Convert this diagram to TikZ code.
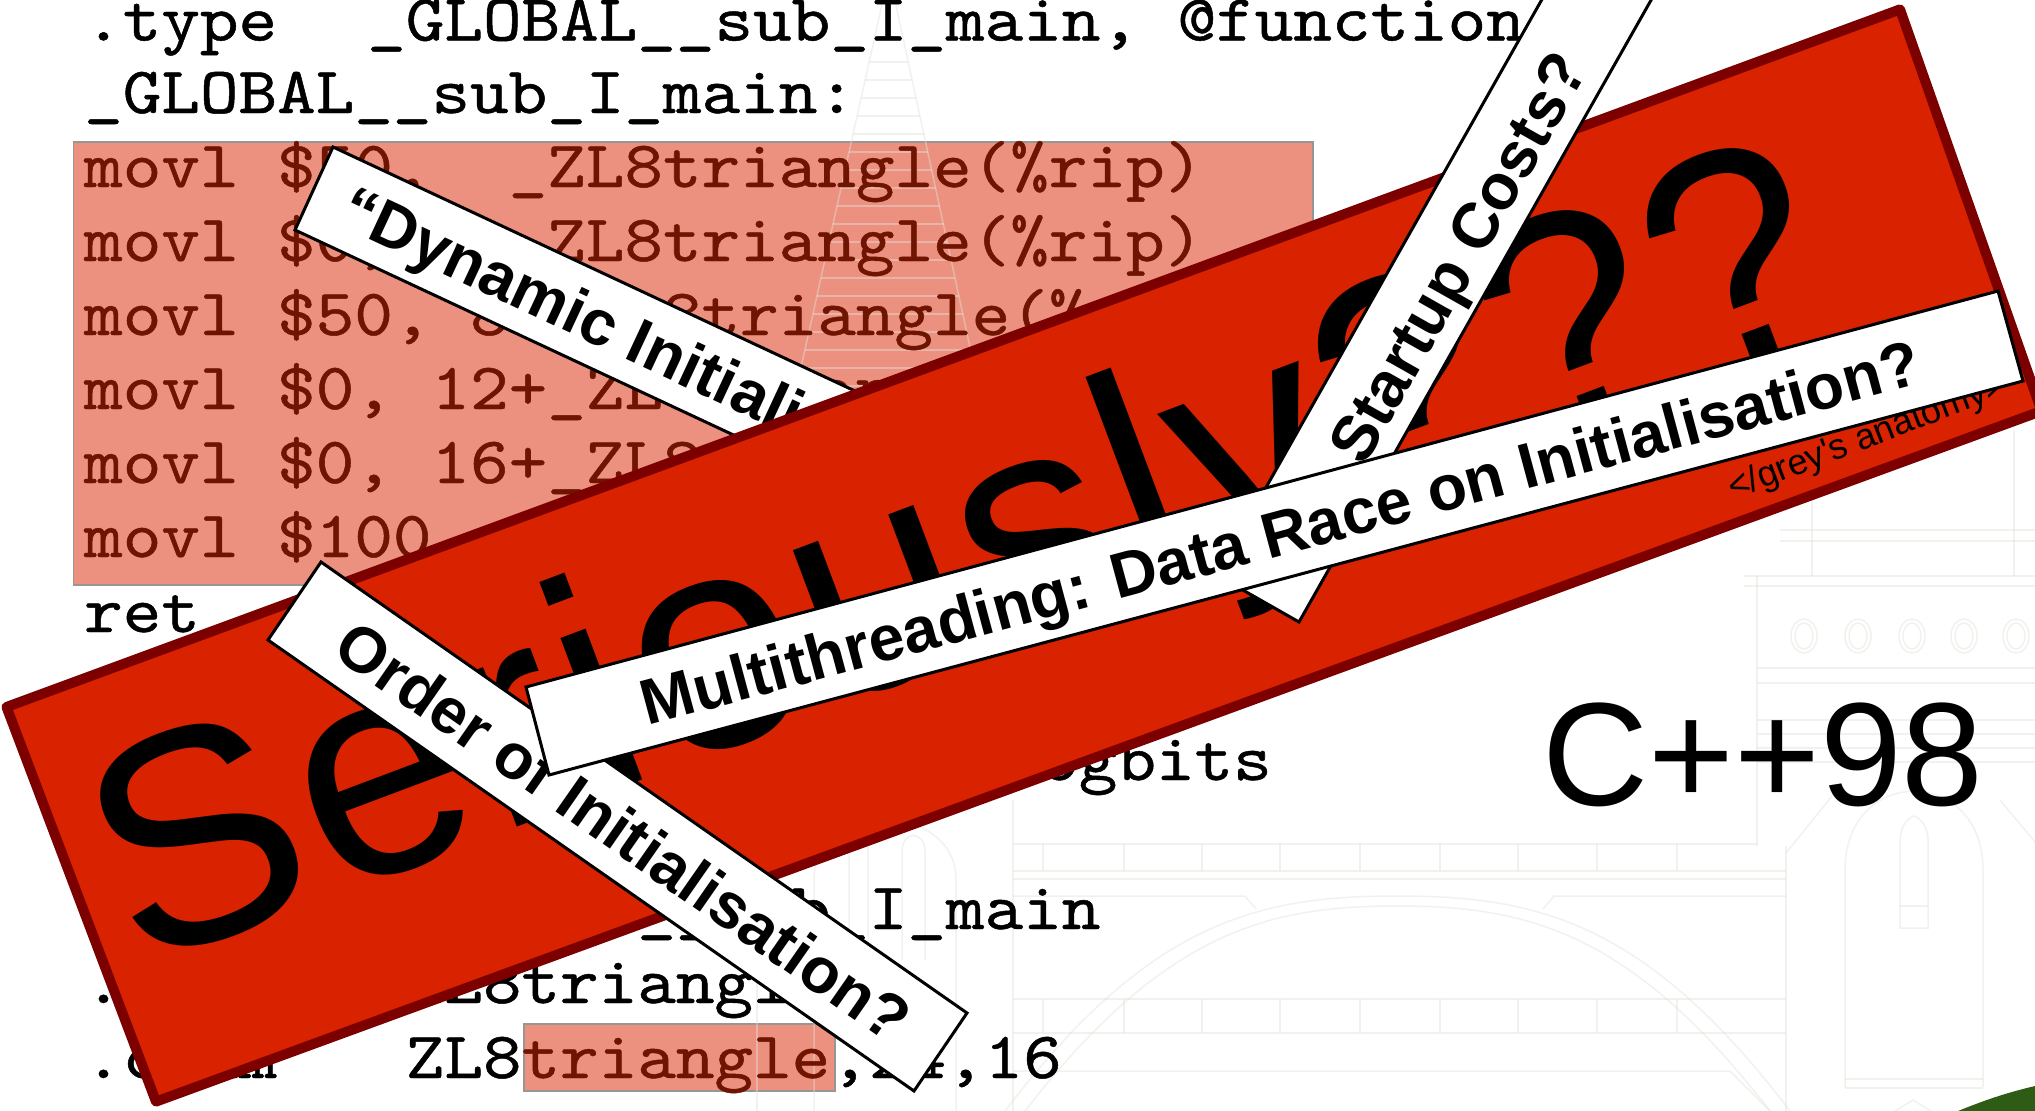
\documentclass[tikz,border=0pt]{standalone}
\usepackage{fontspec}
\newfontfamily\arialfam{Liberation Sans}
\newfontfamily\seriousfont[LetterSpace=2]{Liberation Sans}
\newfontfamily\asmfont{lmmono10-regular.otf}[FakeBold=0.7]

\definecolor{bannerred}{RGB}{216,34,0}
\definecolor{bannerdark}{RGB}{125,0,0}
\definecolor{hilite}{RGB}{236,145,128}
\definecolor{hiliteedge}{RGB}{150,150,150}
\definecolor{codered}{RGB}{112,20,2}
\definecolor{artline}{RGB}{226,226,216}
\definecolor{grass}{RGB}{46,92,20}

\newcommand\asmtext[1]{\scalebox{1}[0.9]{#1}}

\tikzset{
  asmline/.style={anchor=base west, inner sep=0pt, text=black,
    font=\asmfont\fontsize{73.5}{73.5}\selectfont},
  hot/.style={text=codered},
  whitetag/.style={draw=black, fill=white, line width=3pt, line join=miter},
  tagcaption/.style={inner sep=0pt, text height=46pt, text depth=0pt,
    font=\arialfam\bfseries\fontsize{64}{64}\selectfont},
  bgart/.style={draw=artline, line width=1.5pt, opacity=0.45},
  hibox/.style={fill=hilite, draw=hiliteedge, line width=1.5pt},
}

\begin{document}
\begin{tikzpicture}[x=1pt,y=-1pt]
\clip (0,0) rectangle (2035,1111);
\fill[white] (0,0) rectangle (2035,1111);

% highlighted instructions
\path[hibox] (73.5,142) rectangle (1313,585);
\path[hibox] (524,1024) rectangle (835,1091);

% faint line drawing of the building behind the slide
\draw[bgart] (889,-27) -- (758,560);
\draw[bgart] (889,-27) -- (1016,560);
\foreach \y in {62,80,...,560}
  \draw[bgart] ({883-0.223*\y},\y) -- ({895+0.2167*\y},\y);
\draw[bgart] (757,800) -- (757,1111);
\draw[bgart] (1013,800) -- (1013,1111);
\draw[bgart] (814,1111) -- (814,880) .. controls (814,800) and (956,800) .. (956,880) -- (956,1111);
\draw[bgart] (849,960) -- (849,852) .. controls (849,830) and (868,830) .. (868,852) -- (868,960);
\draw[bgart] (902,960) -- (902,852) .. controls (902,830) and (925,830) .. (925,852) -- (925,960);
% bridge
\draw[bgart] (1013,844) -- (1757,844);
\draw[bgart] (1013,871) -- (1786,871);
\draw[bgart] (1013,879) -- (1786,879);
\foreach \x in {1043,1124,1202,1280,1360,1440,1518,1597,1677} {
  \draw[bgart] (\x,844) -- (\x,871);
  \draw[bgart] (\x,999) -- (\x,1033);
}
\draw[bgart] (1013,896) -- (1245,896) -- (1256,909);
\draw[bgart] (1543,909) -- (1554,896) -- (1786,896);
\draw[bgart] (1013,999) -- (1786,999);
\draw[bgart] (1013,1033) -- (1786,1033);
\draw[bgart] (1013,1071) -- (1730,1071) -- (1770,1111);
\draw[bgart] (1005,1111) .. controls (1150,920) and (1260,896) .. (1397,896)
  .. controls (1535,896) and (1645,920) .. (1790,1111);
\draw[bgart] (1025,1111) .. controls (1165,930) and (1270,906) .. (1397,906)
  .. controls (1525,906) and (1630,930) .. (1770,1111);
% tower
\draw[bgart] (1757,576) -- (1757,846);
\draw[bgart] (1786,846) -- (1786,1111);
\draw[bgart] (1744,576) -- (2035,576);
\draw[bgart] (1744,586) -- (2035,586);
\foreach \y in {668,683,720,734,748,762}
  \draw[bgart] (1757,\y) -- (2035,\y);
\draw[bgart] (1812,430) -- (1812,576);
\draw[bgart] (2014,430) -- (2014,576);
\draw[bgart] (1780,530) -- (2035,530);
\draw[bgart] (1780,541) -- (2035,541);
\foreach \x in {1804,1858,1912,1964,2016} {
  \draw[bgart] (\x,636) ellipse [x radius=13, y radius=17];
  \draw[bgart] (\x,636) ellipse [x radius=9, y radius=13];
}
\draw[bgart] (1786,853) -- (1832,796);
\draw[bgart] (2000,800) -- (2035,842);
\draw[bgart] (1845,1087) -- (1845,870) .. controls (1845,765) and (1983,765) .. (1983,870) -- (1983,1087);
\draw[bgart] (1845,1079) -- (1983,1079);
\draw[bgart] (1845,1088) -- (1983,1088);
\draw[bgart] (1900,928) -- (1900,840) .. controls (1900,826) and (1908,818) .. (1914,816)
  .. controls (1920,818) and (1928,826) .. (1928,840) -- (1928,928) -- cycle;
\draw[bgart] (1900,906) -- (1928,906);
\draw[bgart] (1895,1111) -- (1913,1100) -- (1931,1111);
\fill[grass] (1958,1111) .. controls (1990,1098) and (2010,1092) .. (2035,1086) -- (2035,1111) -- cycle;

% assembly listing
\node[asmline] (typedir) at (84,40.5) {\asmtext{.type}};
\node[asmline] (typearg) at (367,40.5) {\asmtext{\_GLOBAL\_\_sub\_I\_main, @function}};
\node[asmline] (label) at (84,113) {\asmtext{\_GLOBAL\_\_sub\_I\_main:}};
\node[asmline,hot] (mov1) at (84,187) {\asmtext{movl \$50,~ \_ZL8triangle(\%rip)}};
\node[asmline,hot] (mov2) at (84,261) {\asmtext{movl \$0, 4+\_ZL8triangle(\%rip)}};
\node[asmline,hot] (mov3) at (84,335) {\asmtext{movl \$50, 8+\_ZL8triangle(\%rip)}};
\node[asmline,hot] (mov4) at (84,409) {\asmtext{movl \$0, 12+\_ZL8triangle(\%rip)}};
\node[asmline,hot] (mov5) at (84,483) {\asmtext{movl \$0, 16+\_ZL8triangle(\%rip)}};
\node[asmline,hot] (mov6) at (84,557) {\asmtext{movl \$100, 20+\_ZL8triangle(\%rip)}};
\node[asmline] (ret) at (84,632) {\asmtext{ret}};
\node[asmline,anchor=base east] (sect) at (1272,780) {\asmtext{.section .ctors,"aw",@progbits}};
\node[asmline] (quaddir) at (84,929) {\asmtext{.quad}};
\node[asmline] (quadarg) at (367,929) {\asmtext{\_GLOBAL\_\_sub\_I\_main}};
\node[asmline] (localdir) at (84,1003) {\asmtext{.local}};
\node[asmline] (localarg) at (367,1003) {\asmtext{\_ZL8triangle}};
\node[asmline] (commdir) at (84,1078) {\asmtext{.comm}};
\node[asmline] (commarg) at (405.6,1078) {\asmtext{ZL8{\color{codered}triangle},24,16}};

% tag slipping under the big banner
\draw[whitetag] (333,147) -- (1148,528) -- (1110,611) -- (295,230) -- cycle;
\node[tagcaption, anchor=west, rotate=-25] (dynamic) at (345.7,203.3) {“Dynamic Initialisation”};

% the big banner
\draw[fill=bannerred, draw=bannerdark, line width=10pt, line join=round]
  (6.5,707) -- (1900,9.4) -- (2041.5,411) -- (156,1101.6) -- cycle;
\node[anchor=base west, inner sep=0pt, rotate=20.6,
  font=\seriousfont\fontsize{305}{305}\selectfont] (seriously) at (137,970) {Seriously???};
\node[anchor=base west, inner sep=0pt, rotate=21,
  font=\arialfam\fontsize{36}{36}\selectfont] (grey) at (1733,500) {</grey's anatomy>};

% tags on top of the banner
\draw[whitetag] (321,562) -- (967,1013) -- (914,1091) -- (268,640) -- cycle;
\node[tagcaption, rotate=-34.9] (order) at (624,831) {Order of Initialisation?};

\draw[whitetag] (1216.5,575) -- (1299,622) -- (1693,-74) -- (1610,-121) -- cycle;
\node[tagcaption, rotate=60.5] (startup) at (1457,257) {Startup Costs?};

\draw[whitetag] (526,687) -- (1998,291) -- (2023,381) -- (549,775) -- cycle;
\node[tagcaption, rotate=15.06] (multi) at (1280,532) {Multithreading: Data Race on Initialisation?};

\node[anchor=base west, inner sep=0pt, font=\arialfam\fontsize{147}{147}\selectfont] (cpp) at (1542,805) {C++98};
\end{tikzpicture}
\end{document}
